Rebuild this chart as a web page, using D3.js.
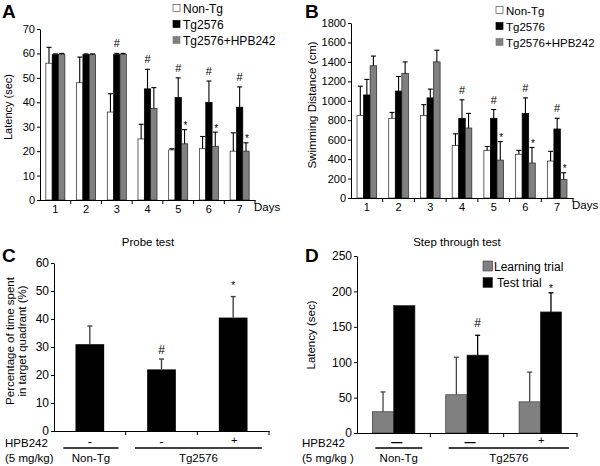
<!DOCTYPE html>
<html><head><meta charset="utf-8">
<script src="https://cdn.jsdelivr.net/npm/d3@7"></script>
<style>body{margin:0;background:#fff} svg{display:block}</style>
</head><body><svg id="c" width="600" height="466"></svg>
<script>
// ---------- DATA ----------
const days = ["1","2","3","4","5","6","7"];
const seriesAB = ["Non-Tg","Tg2576","Tg2576+HPB242"];
// Panel A: latency (sec), mean and upper SE
const latNonTg     = [56, 48, 36, 25, 20.5, 21, 20];
const latNonTgErr  = [6.5, 10.5, 7.5, 6, 0.5, 5, 7.5];
const latTg        = [59.5, 59.5, 59.5, 45.5, 42, 40, 38];
const latTgErr     = [0.3, 0.3, 0.5, 8, 8, 8.7, 8.3];
const latHPB       = [59.7, 59.5, 59.7, 37.5, 23, 22, 20];
const latHPBErr    = [0.3, 0.3, 0.3, 8.5, 5.8, 5.8, 3.4];
const latTgMarks   = ["", "", "#", "#", "#", "#", "#"];
const latHPBMarks  = ["", "", "", "", "*", "*", "*"];
const latTicks     = [0,10,20,30,40,50,60,70];
// Panel B: swimming distance (cm)
const distNonTg    = [850, 820, 850, 540, 490, 450, 380];
const distNonTgErr = [300, 60, 110, 120, 40, 40, 100];
const distTg       = [1060, 1100, 1030, 820, 820, 870, 710];
const distTgErr    = [160, 150, 90, 190, 90, 160, 110];
const distHPB      = [1360, 1280, 1400, 720, 390, 360, 190];
const distHPBErr   = [100, 120, 120, 150, 190, 160, 70];
const distTgMarks  = ["", "", "", "#", "#", "#", "#"];
const distHPBMarks = ["", "", "", "", "*", "*", "*"];
const distTicks    = [0,200,400,600,800,1000,1200,1400,1600,1800];
// Panel C: probe test
const probeGroups  = ["g1","g2","g3"];
const probeHPB     = ["-","-","+"];
const probeValues  = [31, 22, 40.5];
const probeErr     = [6.5, 3.7, 7.5];
const probeMarks   = ["", "#", "*"];
const probeTicks   = [0,10,20,30,40,50,60];
// Panel D: step through test
const stepGroups   = ["g1","g2","g3"];
const stepSeries   = ["Learning trial","Test trial"];
const stepHPB      = ["\u2014","\u2014","+"];
const stepLearning = [30, 54, 44];
const stepLearnErr = [28, 53, 42];
const stepTest     = [180, 110, 171];
const stepTestErr  = [0, 28, 27];
const stepTestMarks= ["", "#", "*"];
const stepTicks    = [0,50,100,150,200,250];
const genotypeGroups = [{name:"Non-Tg", from:0, to:0},{name:"Tg2576", from:1, to:2}];

// ---------- DRAW ----------
const F = 'Arial, "Liberation Sans", Helvetica, sans-serif';
const svg = d3.select("#c");
const WHITE="#ffffff", BLACK="#000000", GREY="#808080";

function txt(g, x, y, s, fs, opts={}) {
  const t = g.append("text").attr("x",x).attr("y",y).text(s)
    .attr("font-family",F).attr("font-size",fs).attr("fill",opts.fill||"#000");
  if (opts.anchor) t.attr("text-anchor",opts.anchor);
  if (opts.weight) t.attr("font-weight",opts.weight);
  if (opts.rotate) t.attr("transform",`rotate(-90,${x},${y})`);
  return t;
}
function yAxis(g, y, x0, ticks, fs) {
  const ax = g.append("g").attr("transform",`translate(${x0},0)`)
    .call(d3.axisLeft(y).tickValues(ticks).tickFormat(d3.format("d")).tickSize(3).tickSizeOuter(0).tickPadding(2));
  ax.attr("font-family",F).attr("font-size",fs);
  ax.select(".domain").attr("stroke","#000");
  ax.selectAll(".tick line").attr("stroke","#000");
  ax.selectAll("text").attr("fill","#000");
}
function xAxisBands(g, x, y0) {
  const [r0,r1] = x.range();
  g.append("line").attr("x1",r0).attr("x2",r1+0.5).attr("y1",y0+0.5).attr("y2",y0+0.5).attr("stroke","#000");
  const st = x.step();
  x.domain().forEach((d,i)=>{
    const bx = r0 + st*(i+1);
    g.append("line").attr("x1",bx).attr("x2",bx).attr("y1",y0).attr("y2",y0+4).attr("stroke","#000");
  });
}
function errBar(g, cx, yBase, yTop, color, w) {
  g.append("line").attr("x1",cx).attr("x2",cx).attr("y1",yBase).attr("y2",yTop).attr("stroke",color).attr("stroke-width",w);
  g.append("line").attr("x1",cx-2.5).attr("x2",cx+2.5).attr("y1",yTop).attr("y2",yTop).attr("stroke",color).attr("stroke-width",w);
}

// ----- Panels A and B (grouped days) -----
function dayPanel(opts) {
  const g = svg.append("g");
  const y = d3.scaleLinear().domain([0, opts.ymax]).range(opts.yRange);
  const x = d3.scaleBand().domain(days).range(opts.xRange).paddingInner(0.38).paddingOuter(0.19);
  const xi = d3.scaleBand().domain(seriesAB).range([0, x.bandwidth()]);
  const fills = [WHITE, BLACK, GREY];
  const vals = opts.vals, errs = opts.errs;
  seriesAB.forEach((s, si) => {
    days.forEach((d, di) => {
      const bx = x(d) + xi(s), v = vals[si][di];
      g.append("rect").attr("x",bx).attr("y",y(v)).attr("width",xi.bandwidth()).attr("height",y(0)-y(v))
        .attr("fill",fills[si]).attr("stroke", si===1? "#000" : "#222").attr("stroke-width",0.7);
      const cx = bx + xi.bandwidth()/2;
      const topY = y(v + errs[si][di]);
      errBar(g, cx, y(v), topY, "#000", 1.1);
      const mk = opts.marks[si] ? opts.marks[si][di] : "";
      if (mk === "#") txt(g, cx, topY-6, "#", 11, {anchor:"middle"});
      if (mk === "*") txt(g, cx+1, topY-0.5, "*", 10, {anchor:"middle"});
    });
  });
  yAxis(g, y, opts.xRange[0], opts.ticks, 11);
  xAxisBands(g, x, opts.yRange[0]);
  days.forEach(d => txt(g, x(d)+x.bandwidth()/2, opts.yRange[0]+13, d, 11, {anchor:"middle"}));
  txt(g, opts.xRange[1]-1, opts.yRange[0]+11, "Days", 11.5);
  // legend
  const legFills = [WHITE, BLACK, GREY];
  seriesAB.forEach((s, i) => {
    const cy = opts.legY + i*opts.legStep;
    g.append("rect").attr("x",opts.legX).attr("y",cy-3.5).attr("width",7).attr("height",7)
      .attr("fill",legFills[i]).attr("stroke", i===0 ? "#555" : legFills[i]).attr("stroke-width",0.7);
    txt(g, opts.legX+10, cy+4.5, s, opts.legFs);
  });
  txt(g, opts.ylabX, opts.ylabY, opts.ylab, opts.ylabFs, {anchor:"middle", rotate:true});
  txt(g, opts.letterX, 18, opts.letter, 19, {weight:"bold"});
}
dayPanel({
  ymax:70, yRange:[200,29], xRange:[40,255], ticks:latTicks,
  vals:[latNonTg, latTg, latHPB], errs:[latNonTgErr, latTgErr, latHPBErr],
  marks:[null, latTgMarks, latHPBMarks],
  legX:173, legY:8, legStep:16, legFs:12,
  ylab:"Latency (sec)", ylabX:12, ylabY:107, ylabFs:11, letter:"A", letterX:2
});
dayPanel({
  ymax:1800, yRange:[198,23], xRange:[351,573], ticks:distTicks,
  vals:[distNonTg, distTg, distHPB], errs:[distNonTgErr, distTgErr, distHPBErr],
  marks:[null, distTgMarks, distHPBMarks],
  legX:496, legY:10, legStep:16, legFs:11.5,
  ylab:"Swimming Distance (cm)", ylabX:316, ylabY:105, ylabFs:11.5, letter:"B", letterX:305
});

// ----- HPB242 footer -----
function footer(g, x, hpbMarks, dashBold, xLab, lineL, lineR, dashDx) {
  const y0 = 447;
  txt(g, xLab, y0, "HPB242", 11.5);
  txt(g, xLab, y0+15, dashBold ? "(5 mg/kg )" : "(5 mg/kg)", 11.5);
  const st = x.step();
  x.domain().forEach((d,i) => {
    const c = x(d) + x.bandwidth()/2;
    const s = hpbMarks[i];
    if (s === "+") txt(g, c+1, y0-3, "+", 11, {anchor:"middle"});
    else txt(g, c + dashDx, y0-1, s, dashBold? 11: 13, {anchor:"middle", weight: dashBold? "bold":"normal"});
  });
  genotypeGroups.forEach(gr => {
    const a = x(x.domain()[gr.from]) + x.bandwidth()/2 - lineL*st;
    const b = x(x.domain()[gr.to]) + x.bandwidth()/2 + lineR*st;
    g.append("line").attr("x1",a).attr("x2",b).attr("y1",y0+1).attr("y2",y0+1).attr("stroke","#000").attr("stroke-width",1.6);
    txt(g, (a+b)/2, y0+15, gr.name, 11.5, {anchor:"middle"});
  });
}

// ----- Panel C -----
(function(){
  const g = svg.append("g");
  const y = d3.scaleLinear().domain([0,60]).range([431,263]);
  const x = d3.scaleBand().domain(probeGroups).range([54,269]).paddingInner(0.6).paddingOuter(0.3);
  probeGroups.forEach((d,i) => {
    const v = probeValues[i], bx = x(d), cx = bx + x.bandwidth()/2;
    g.append("rect").attr("x",bx).attr("y",y(v)).attr("width",x.bandwidth()).attr("height",y(0)-y(v)).attr("fill",BLACK);
    const topY = y(v+probeErr[i]);
    errBar(g, cx, y(v), topY, "#444", 1.4);
    if (probeMarks[i]==="#") txt(g, cx, topY-5, "#", 12, {anchor:"middle"});
    if (probeMarks[i]==="*") txt(g, cx, topY-8, "*", 10, {anchor:"middle"});
  });
  yAxis(g, y, 54, probeTicks, 12);
  xAxisBands(g, x, 431);
  txt(g, 148, 246, "Probe test", 11.5, {anchor:"middle"});
  txt(g, 2, 262, "C", 19, {weight:"bold"});
  txt(g, 14, 341, "Percentage of time spent", 11.5, {anchor:"middle", rotate:true});
  txt(g, 26, 341, "in target quadrant (%)", 11.5, {anchor:"middle", rotate:true});
  footer(g, x, probeHPB, false, 5, 0.37, 0.4, 0);
})();

// ----- Panel D -----
(function(){
  const g = svg.append("g");
  const y = d3.scaleLinear().domain([0,250]).range([433,256]);
  const x = d3.scaleBand().domain(stepGroups).range([357,577]).paddingInner(0.42).paddingOuter(0.21);
  const xi = d3.scaleBand().domain(stepSeries).range([0, x.bandwidth()]);
  const vals = [stepLearning, stepTest], errs = [stepLearnErr, stepTestErr], fills=[GREY, BLACK];
  stepSeries.forEach((s, si) => {
    stepGroups.forEach((d, di) => {
      const v = vals[si][di], bx = x(d)+xi(s), cx = bx + xi.bandwidth()/2;
      g.append("rect").attr("x",bx).attr("y",y(v)).attr("width",xi.bandwidth()).attr("height",y(0)-y(v))
        .attr("fill",fills[si]).attr("stroke","#222").attr("stroke-width",0.6);
      if (errs[si][di] > 0) {
        const topY = y(v+errs[si][di]);
        errBar(g, cx, y(v), topY, si===0? "#444" : "#000", 1.3);
        if (si===1 && stepTestMarks[di]==="#") txt(g, cx, topY-8, "#", 12, {anchor:"middle"});
        if (si===1 && stepTestMarks[di]==="*") txt(g, cx, topY-1, "*", 10, {anchor:"middle"});
      }
    });
  });
  yAxis(g, y, 357, stepTicks, 12);
  xAxisBands(g, x, 433);
  txt(g, 457, 246, "Step through test", 11.5, {anchor:"middle"});
  txt(g, 305, 262, "D", 19, {weight:"bold"});
  txt(g, 315, 335, "Latency (sec)", 11.5, {anchor:"middle", rotate:true});
  stepSeries.forEach((s,i) => {
    const cy = 266 + i*16.5;
    g.append("rect").attr("x",483).attr("y",cy-5).attr("width",9.5).attr("height",10).attr("fill",fills[i]).attr("stroke","#333").attr("stroke-width",0.6);
    txt(g, i===0? 494 : 497, cy+4.5, s, 12);
  });
  footer(g, x, stepHPB, true, 302, 0.25, 0.39, 3);
})();
</script></body></html>
